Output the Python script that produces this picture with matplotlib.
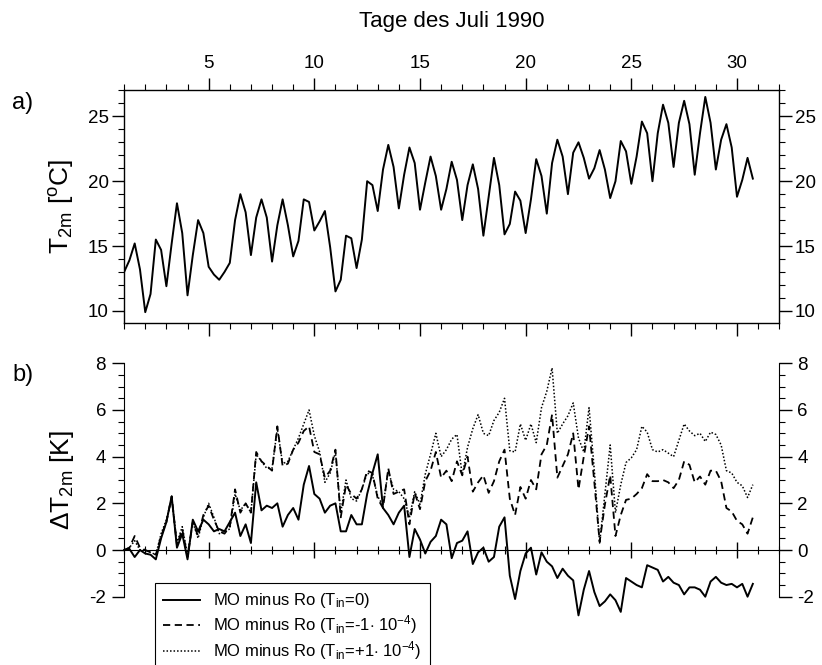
import numpy as np
import matplotlib.pyplot as plt
from matplotlib.ticker import MultipleLocator

plt.rcParams['font.family'] = ['Liberation Sans', 'DejaVu Sans']
plt.rcParams['mathtext.fontset'] = 'custom'
plt.rcParams['mathtext.rm'] = 'Liberation Sans'
plt.rcParams['mathtext.it'] = 'Liberation Sans'
plt.rcParams['axes.unicode_minus'] = False

# 6-hourly time steps, July 1990 (day of month)
days = np.arange(1, 31, 0.25)

# 2m temperature [degC]
t2m = [13.0, 13.9, 15.2, 13.2, 9.9, 11.3, 15.5, 14.7, 11.9, 15.2, 18.3, 16.0,
       11.2, 14.3, 17.0, 16.0, 13.4, 12.8, 12.4, 13.0, 13.7, 17.0, 19.0, 17.6,
       14.3, 17.2, 18.6, 17.2, 13.8, 16.6, 18.6, 16.6, 14.2, 15.4, 18.6, 18.4,
       16.2, 16.9, 17.7, 14.9, 11.5, 12.4, 15.8, 15.6, 13.3, 15.5, 20.0, 19.7,
       17.7, 20.9, 22.8, 21.1, 17.9, 20.5, 22.6, 21.4, 17.8, 19.9, 21.9, 20.4,
       17.8, 19.4, 21.5, 20.1, 17.0, 19.7, 21.3, 19.4, 15.8, 18.8, 21.8, 19.7,
       15.9, 16.7, 19.2, 18.5, 16.0, 18.6, 21.7, 20.4, 17.5, 21.4, 23.2, 21.9,
       19.0, 22.2, 23.0, 21.8, 20.2, 21.0, 22.4, 20.9, 18.7, 20.0, 23.1, 22.3,
       19.8, 21.9, 24.6, 23.7, 20.0, 23.7, 25.9, 24.5, 21.1, 24.5, 26.2, 24.4,
       20.5, 23.7, 26.5, 24.5, 20.9, 23.2, 24.4, 22.6, 18.8, 20.1, 21.8, 20.2]

# temperature differences MO minus Ro [K]
dt_0 = [0.0, 0.05, -0.3, 0.0, -0.15, -0.2, -0.4, 0.5, 1.2, 2.3, 0.1, 0.7,
        -0.4, 1.3, 0.8, 1.3, 1.1, 0.8, 0.9, 0.8, 1.2, 1.6, 0.6, 1.1,
        0.3, 2.9, 1.7, 1.9, 1.8, 2.0, 1.0, 1.5, 1.8, 1.3, 2.8, 3.6,
        2.4, 2.2, 1.6, 1.9, 2.0, 0.8, 0.8, 1.5, 1.1, 1.1, 2.4, 3.3,
        4.1, 1.8, 1.5, 1.1, 1.6, 1.9, -0.3, 0.9, 0.45, -0.15, 0.35, 0.6,
        1.3, 1.1, -0.35, 0.3, 0.4, 0.8, -0.6, -0.1, 0.1, -0.5, -0.3, 1.0,
        1.4, -1.1, -2.1, -0.9, -0.15, 0.1, -1.05, -0.1, -0.5, -0.7, -1.2, -0.8,
        -1.1, -1.3, -2.8, -1.7, -0.9, -1.8, -2.4, -2.2, -1.9, -2.15, -2.65, -1.2,
        -1.35, -1.5, -1.6, -0.65, -0.75, -0.85, -1.35, -1.15, -1.4, -1.5, -1.9, -1.6,
        -1.6, -1.7, -2.0, -1.35, -1.15, -1.4, -1.5, -1.45, -1.6, -1.45, -2.0, -1.45]

dt_m = [0.0, 0.1, 0.6, 0.1, 0.0, -0.1, -0.2, 0.6, 1.2, 2.3, 0.2, 0.9,
        -0.3, 1.2, 0.6, 1.5, 1.9, 1.3, 0.8, 0.7, 1.0, 2.6, 1.6, 2.0,
        1.6, 4.2, 3.8, 3.6, 3.4, 5.3, 3.6, 3.7, 4.3, 4.6, 5.1, 5.3,
        4.2, 4.1, 3.1, 3.4, 4.3, 1.4, 2.8, 2.4, 2.2, 2.6, 3.4, 3.3,
        2.2, 1.8, 3.5, 2.4, 2.5, 2.6, 1.1, 2.45, 1.75, 2.95, 3.4, 4.2,
        3.1, 3.4, 2.95, 3.8, 3.2, 4.0, 2.5, 2.9, 3.2, 2.45, 2.95, 3.8,
        4.3, 2.2, 1.5, 2.7, 2.2, 3.0, 2.6, 4.1, 4.5, 5.8, 3.1, 3.6,
        4.1, 5.0, 2.6, 4.0, 5.3, 2.9, 0.35, 1.95, 3.2, 0.6, 1.5, 2.15,
        2.2, 2.4, 2.65, 3.25, 2.95, 2.95, 3.0, 2.9, 2.65, 3.0, 3.8, 3.65,
        2.9, 3.15, 2.8, 3.4, 3.4, 2.95, 1.8, 1.65, 1.25, 1.1, 0.7, 1.4]

dt_p = [0.0, 0.1, 0.4, 0.0, 0.0, -0.1, -0.2, 0.7, 1.3, 2.2, 0.3, 1.0,
        -0.2, 1.2, 0.5, 1.4, 2.0, 1.4, 0.7, 0.8, 0.9, 2.4, 1.7, 2.0,
        1.6, 4.1, 3.8, 3.5, 3.5, 5.2, 3.7, 3.8, 4.3, 4.8, 5.4, 6.0,
        4.9, 4.2, 2.9, 3.3, 4.2, 1.6, 3.0, 2.2, 2.1, 2.6, 3.3, 3.2,
        2.3, 1.9, 3.4, 2.6, 2.5, 2.2, 1.4, 2.5, 1.95, 3.25, 4.1, 5.0,
        4.0, 4.3, 4.75, 4.95, 3.2, 4.4, 5.2, 5.8, 5.0, 4.9, 5.55, 5.9,
        6.5, 4.25, 4.2, 5.4, 4.7, 5.4, 4.6, 6.1, 6.8, 7.8, 5.0, 5.4,
        5.75, 6.3, 4.8, 4.2, 6.1, 3.4, 0.3, 2.4, 4.5, 1.6, 2.8, 3.75,
        3.95, 4.3, 5.3, 5.05, 4.3, 4.2, 4.3, 4.15, 4.0, 4.7, 5.4, 5.1,
        4.9, 5.0, 4.65, 5.05, 4.95, 4.5, 3.4, 3.3, 2.9, 2.75, 2.25, 2.8]

labels = [r'MO minus Ro (T$_{\mathregular{in}}$=0)',
          r'MO minus Ro (T$_{\mathregular{in}}$=-1$\cdot$ 10$^{\mathregular{-4}}$)',
          r'MO minus Ro (T$_{\mathregular{in}}$=+1$\cdot$ 10$^{\mathregular{-4}}$)']

fig = plt.figure(figsize=(8.22, 6.65), dpi=100)

# a) temperature
ax1 = fig.add_axes([0.151, 0.514, 0.797, 0.350])
ax1.plot(days, t2m, color='black', lw=1.4)
ax1.set_xlim(1, 32)
ax1.set_ylim(9.05, 27)
ax1.xaxis.set_major_locator(MultipleLocator(5))
ax1.xaxis.set_minor_locator(MultipleLocator(1))
ax1.yaxis.set_major_locator(MultipleLocator(5))
ax1.yaxis.set_minor_locator(MultipleLocator(1))
ax1.tick_params(axis='x', which='both', direction='out', top=True, bottom=True,
                labeltop=True, labelbottom=False)
ax1.tick_params(axis='y', which='both', direction='out', left=True, right=True,
                labelleft=True, labelright=True)
ax1.tick_params(which='major', length=9, width=1, labelsize=13.5, pad=2)
ax1.tick_params(axis='x', which='major', pad=4)
ax1.tick_params(which='minor', length=4, width=0.8)
for sp in ax1.spines.values():
    sp.set_linewidth(1)

# b) temperature differences, lines may run below -2
ax2 = fig.add_axes([0.151, 0.1027, 0.797, 0.351])
l0, = ax2.plot(days, dt_0, color='black', lw=1.4, ls='-', clip_on=False)
l1, = ax2.plot(days, dt_m, color='black', lw=1.3, ls=(0, (4, 2.5)), clip_on=False)
l2, = ax2.plot(days, dt_p, color='black', lw=1.1, ls=(0, (1, 1.3)), clip_on=False)
ax2.set_xlim(1, 32)
ax2.set_ylim(-2, 8)
ax2.spines['top'].set_visible(False)
ax2.spines['bottom'].set_position(('data', 0))
ax2.xaxis.set_major_locator(MultipleLocator(5))
ax2.xaxis.set_minor_locator(MultipleLocator(1))
ax2.yaxis.set_major_locator(MultipleLocator(2))
ax2.yaxis.set_minor_locator(MultipleLocator(0.5))
ax2.tick_params(axis='x', which='both', direction='inout', labelbottom=False)
ax2.tick_params(axis='x', which='major', length=12)
ax2.tick_params(axis='x', which='minor', length=6)
ax2.tick_params(axis='y', which='both', direction='out', left=True, right=True,
                labelleft=True, labelright=True)
ax2.tick_params(axis='y', which='major', length=9, labelsize=13.5, pad=4)
ax2.tick_params(axis='y', which='minor', length=4)
ax2.tick_params(which='both', width=1)
ax2.tick_params(which='minor', width=0.8)

leg = fig.legend([l0, l1, l2], labels, loc='upper left',
                 bbox_to_anchor=(155 / 822, 1 - 583 / 665), fontsize=12,
                 fancybox=False, edgecolor='black', framealpha=1,
                 handlelength=2.2, handletextpad=0.8, labelspacing=0.18,
                 borderpad=0.5, borderaxespad=0)
leg.get_frame().set_linewidth(0.8)

fig.text(0.549, 0.967, 'Tage des Juli 1990', ha='center', va='center', fontsize=16)
fig.text(0.075, 0.69, r'T$_{\mathregular{2m}}$ [$^{\mathregular{o}}$C]', rotation=90,
         ha='center', va='center', fontsize=19)
fig.text(0.075, 0.278, r'$\Delta$T$_{\mathregular{2m}}$ [K]', rotation=90,
         ha='center', va='center', fontsize=19)
fig.text(0.015, 0.845, 'a)', ha='left', va='center', fontsize=17)
fig.text(0.015, 0.436, 'b)', ha='left', va='center', fontsize=17)

fig.savefig('out.png', dpi=100)
